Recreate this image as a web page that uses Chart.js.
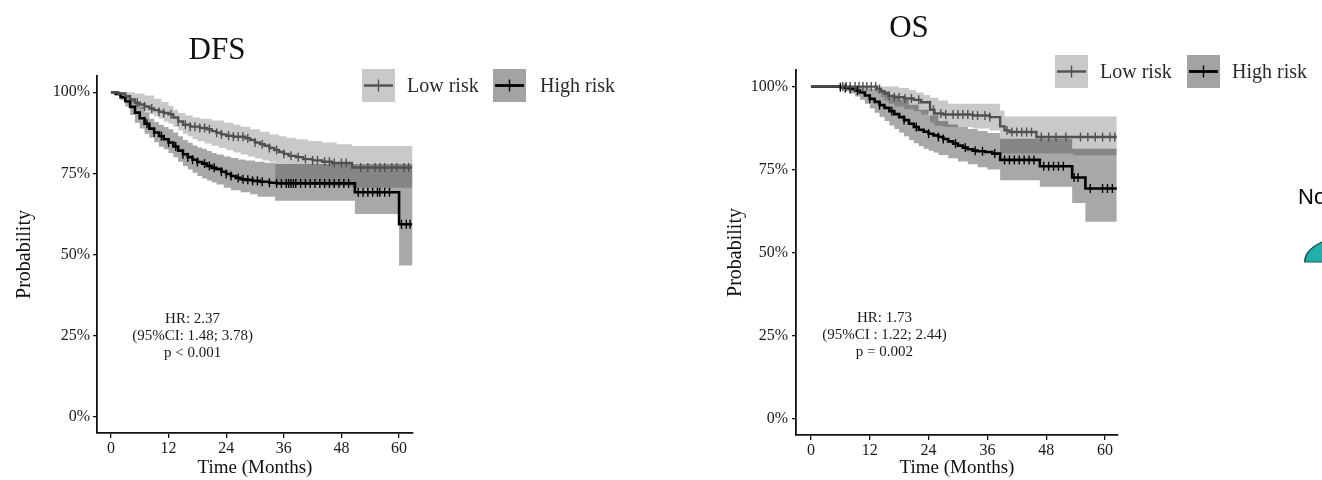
<!DOCTYPE html>
<html>
<head>
<meta charset="utf-8">
<script src="https://cdn.jsdelivr.net/npm/chart.js@4.4.1/dist/chart.umd.min.js"></script>
<style>
html, body { margin: 0; padding: 0; background: #ffffff; }
body { position: relative; width: 1322px; height: 480px; overflow: hidden; }
canvas { position: absolute; }
#dfs { left: 0; top: 0; }
#os { left: 660px; top: 0; }
#pie { left: 1304px; top: 214px; transform: scaleY(0.55); transform-origin: 50% 50%; }
#noLabel { position: absolute; left: 1298px; top: 184px; font: 22px "Liberation Sans", Arial, sans-serif; color: #000; line-height: 26px; }
</style>
</head>
<body>
<canvas id="dfs" width="660" height="480"></canvas>
<canvas id="os" width="662" height="480"></canvas>
<div id="noLabel">No</div>
<canvas id="pie" width="96" height="96"></canvas>
<script>
const SERIF = '"Liberation Serif", "Times New Roman", serif';

// ---------------- shared ticks / labels ----------------
const xTicks = [0, 12, 24, 36, 48, 60];
const yTicks = [0, 25, 50, 75, 100];
const groupNames = ['Low risk', 'High risk'];

// ---------------- DFS ----------------
const dfsLowT = [0, 1.5, 3, 4, 5, 6, 7, 8, 9, 10, 11, 12, 13, 14, 15, 16.5, 18.5, 20, 21, 22, 23, 24, 25.5, 28, 29, 30, 31, 32, 33, 34, 35, 36, 37, 38.5, 40, 42, 44, 46, 50.2, 62.7];
const dfsLowS = [100, 99.6, 98.8, 97.8, 96.8, 96.2, 95.6, 95, 94.5, 94, 93.6, 93.2, 92.2, 91, 90, 89.4, 89, 88.6, 88, 87.5, 87, 86.6, 86.3, 85.8, 85.3, 84.5, 84, 83.5, 82.8, 82.2, 81.6, 81, 80.4, 80, 79.4, 79, 78.6, 78.2, 76.8, 76.8];
const dfsLowUpT = [0, 5, 7, 9, 10.5, 12, 13, 14, 15.5, 17, 18.5, 21, 23.5, 25.5, 27, 29, 31, 33, 35, 36.5, 38.5, 41, 44, 47, 50.2, 62.8];
const dfsLowUpS = [100, 99.6, 99, 98, 97, 95.8, 94.6, 93.6, 92.8, 92.2, 91.8, 91.3, 90.6, 90, 89.4, 88.6, 87.8, 87, 86.4, 86, 85.5, 85, 84.5, 84, 83.4, 83.4];
const dfsLowLoT = [0, 1.5, 3, 4, 5, 6, 7, 8, 9, 10, 11, 12, 13, 14, 15, 16, 17, 18, 19.5, 21, 22.5, 24, 25.5, 27, 28.5, 30, 31.5, 33, 34.2, 38, 44, 50.2, 62.8];
const dfsLowLoS = [100, 99.2, 98, 96.8, 95.6, 94.8, 94, 93.2, 92.5, 91.8, 91, 90.3, 89.3, 88.2, 87.2, 86.4, 85.6, 84.9, 84.2, 83.5, 82.8, 82.1, 81.4, 80.8, 80.2, 79.6, 79, 78.5, 71.8, 71.4, 71, 70.6, 70.6];
const dfsHighT = [0, 1, 2, 3, 4, 5, 6, 7, 8, 9, 10, 11, 12, 13, 14, 15, 16, 17, 18, 19, 20, 21, 22, 23, 24, 25, 26, 27, 28, 29.5, 31, 33, 34.5, 50.8, 60, 62.7];
const dfsHighS = [100, 99.5, 98.5, 97.2, 95.5, 93.7, 92, 90.3, 88.8, 87.6, 86.5, 85.5, 84.5, 83.3, 82, 80.9, 80, 79.2, 78.5, 78, 77.3, 76.7, 76.3, 75.5, 74.8, 74.2, 73.6, 73.2, 73, 72.7, 72.4, 72.1, 71.9, 69.2, 59.3, 59.3];
const dfsHighUpT = [0, 2, 3, 4, 5, 6, 7, 8, 9, 10, 11, 12, 13, 14, 15, 16, 17, 18, 19, 20, 21, 22, 23.5, 25, 26.5, 28, 30, 32, 34.2, 62.8];
const dfsHighUpS = [100, 99.6, 99, 98, 96.8, 95.5, 93.8, 91.8, 90.8, 90, 89.3, 88.6, 87.6, 86.4, 85.3, 84.4, 83.6, 83, 82.5, 81.9, 81.3, 80.8, 80.2, 79.7, 79.3, 79, 78.6, 78.3, 77.9, 77.9];
const dfsHighLoT = [0, 1, 2, 3, 4, 5, 6, 7, 8, 9, 10, 11, 12, 13, 14, 15, 16, 17, 18, 19, 20, 21, 22, 23.5, 25, 27, 29, 30.5, 34.2, 50.8, 60, 62.8];
const dfsHighLoS = [100, 99, 97.5, 95.5, 93, 90.6, 88.8, 87.2, 86, 84.6, 83.2, 82.4, 81.3, 80, 78.6, 77.3, 76.2, 75.2, 74.2, 73.4, 72.8, 72.2, 71.6, 70.6, 69.8, 69.2, 68.6, 67.8, 66.6, 62.5, 46.6, 46.6];
const dfsLowCensor = [5.5, 7, 8.5, 10, 11, 12.5, 14, 15.5, 16.5, 17.5, 18.5, 19.5, 20.5, 22, 23, 24.5, 25.5, 26.5, 27.5, 28.5, 30, 31.5, 33, 34.5, 36, 37.5, 39, 40.5, 42, 43, 44.5, 45.5, 46.5, 48, 49, 52, 53.5, 55, 56, 57, 58.5, 59.5, 61, 62];
const dfsHighCensor = [7.5, 9, 10.5, 12, 13.5, 15, 16, 17, 18, 19.5, 20.5, 21.5, 23, 24, 25, 26.5, 27.5, 28.5, 29.5, 30.5, 31.5, 33, 34.5, 35.5, 36.5, 37, 37.5, 38, 38.5, 39.5, 40.5, 41.5, 42.5, 43.5, 44.5, 45.5, 46.5, 47.5, 48.5, 49.5, 51.5, 52.5, 53.5, 54.5, 55.5, 56, 57, 58, 60.5, 61.5, 62.3];
const dfsNote = ['HR: 2.37', '(95%CI: 1.48; 3.78)', 'p < 0.001'];

// ---------------- OS ----------------
const osLowT = [0, 13.5, 14.3, 15, 15.8, 17, 19, 21, 22.5, 24.3, 25.2, 27, 33, 36.5, 38.6, 39.5, 40.5, 46, 62.4];
const osLowS = [100, 99.3, 98.6, 97.9, 97.2, 96.8, 96.4, 96, 95.3, 93, 91.9, 91.6, 91.3, 90.8, 88, 86.8, 86.3, 84.8, 84.8];
const osLowUpT = [0, 18, 20, 21.5, 23, 24.3, 26, 28, 38.6, 39.5, 62.4];
const osLowUpS = [100, 99.6, 99, 98.2, 97.5, 96.6, 95.8, 94.8, 92.8, 91, 91];
const osLowLoT = [0, 13.5, 14.3, 15, 15.8, 17, 19, 21, 22.5, 24.3, 25.2, 27, 33, 36.5, 38.6, 53.5, 62.4];
const osLowLoS = [100, 98, 96.8, 95.8, 94.8, 94, 93.2, 92.6, 91.6, 89.2, 88.2, 87.8, 87.4, 86.8, 79.8, 79.3, 79.3];
const osHighT = [0, 6, 7, 8, 9, 10, 11, 12, 13, 14, 15, 16, 17, 18, 19, 20, 21, 22, 23, 24, 25, 26, 27, 28, 29, 30, 31, 32, 33, 34, 35.5, 37, 38.6, 46.7, 53.3, 56, 62.4];
const osHighS = [100, 99.8, 99.6, 99.3, 98.8, 98.2, 97.3, 96.3, 95.4, 94.4, 93.6, 92.6, 91.7, 90.8, 89.9, 88.8, 87.8, 87, 86.4, 85.8, 85.3, 84.8, 84.2, 83.5, 82.8, 82.2, 81.6, 81.1, 80.7, 80.5, 80.3, 79.8, 77.9, 76, 72.6, 69.3, 69.3];
const osHighUpT = [0, 10, 12, 14, 16, 18, 20, 22, 24, 26, 28, 30, 32, 34, 36, 38.6, 53.3, 62.4];
const osHighUpS = [100, 99.8, 99.4, 98.6, 97.4, 96, 94.5, 93, 91.4, 89.6, 88.6, 87.8, 87.2, 86.6, 86, 84.3, 81.3, 81.3];
const osHighLoT = [0, 6, 7, 8, 9, 10, 11, 12, 13, 14, 15, 16, 17, 18, 19, 20, 21, 22, 23, 24, 25, 26, 28, 30, 32, 34, 36, 38.6, 46.7, 53.3, 56, 62.4];
const osHighLoS = [100, 99.2, 98.6, 97.9, 97, 96, 94.8, 93.4, 92.1, 90.8, 89.6, 88.3, 87.2, 86.1, 85, 83.9, 82.9, 82, 81.3, 80.7, 80.1, 79.4, 78.4, 77.4, 76.6, 75.7, 75, 71.8, 69.8, 64.9, 59.3, 59.3];
const osLowCensor = [6.5, 7.2, 8, 9, 9.8, 10.6, 11.4, 12.3, 13.2, 14, 16, 17, 18, 19.2, 20.5, 22, 25, 26.5, 27.5, 29, 30, 31, 32, 33, 34, 35.5, 36.5, 40, 41, 42, 43, 44, 45, 47, 48.5, 50, 52, 55, 56.5, 58, 59.5, 61, 62];
const osHighCensor = [6, 7, 8, 9.5, 12, 14, 16.5, 19, 21.5, 24, 26, 27, 29.5, 31.5, 33.5, 35, 37.5, 39.5, 40.5, 41.5, 42.5, 43.5, 44.5, 45.5, 47.5, 48.5, 49.5, 50.5, 51.5, 53.7, 54.5, 57, 59.5, 60.5, 61.5];
const osNote = ['HR: 1.73', '(95%CI : 1.22; 2.44)', 'p = 0.002'];

// ---------------- fragment of the next panel ----------------
const pieLabels = ['No', 'Other'];
const pieValues = [25, 75];

// ---------------- styles ----------------
const LOW_LINE = '#505050';
const HIGH_LINE = '#000000';
const LOW_BAND = 'rgba(0,0,0,0.21)';
const HIGH_BAND = 'rgba(0,0,0,0.34)';
const LOW_KEY = '#c9c9c9';
const HIGH_KEY = '#a3a3a3';

function pts(T, S) { return T.map((t, i) => ({ x: t, y: S[i] })); }
function valueAt(T, S, t) { let v = S[0]; for (let i = 0; i < T.length; i++) { if (T[i] <= t) v = S[i]; } return v; }
function censorPts(T, S, C) { return C.map(t => ({ x: t, y: valueAt(T, S, t) })); }

const overlay = {
  id: 'overlay',
  afterDraw(chart, args, o) {
    const ctx = chart.ctx;
    ctx.save();
    // title
    ctx.fillStyle = '#111';
    ctx.font = o.titleSize + 'px ' + SERIF;
    ctx.textAlign = 'center';
    ctx.textBaseline = 'middle';
    ctx.fillText(o.title, o.titleX, o.titleY);
    // legend
    o.legend.forEach((it, k) => {
      const x = it.boxX, y = o.legendY, s = 33;
      ctx.fillStyle = it.key;
      ctx.fillRect(x, y, s, s);
      ctx.strokeStyle = it.line;
      ctx.lineWidth = it.lw;
      ctx.beginPath(); ctx.moveTo(x + 2, y + s / 2); ctx.lineTo(x + s - 2, y + s / 2); ctx.stroke();
      ctx.lineWidth = 1.4;
      ctx.beginPath(); ctx.moveTo(x + s / 2, y + s / 2 - 6); ctx.lineTo(x + s / 2, y + s / 2 + 6); ctx.stroke();
      ctx.fillStyle = '#2a2a2a';
      ctx.font = '20px ' + SERIF;
      ctx.textAlign = 'left';
      ctx.textBaseline = 'middle';
      ctx.fillText(groupNames[k], it.textX, y + s / 2 + 1);
    });
    // annotation
    const cx = chart.scales.x.getPixelForValue(o.noteAt[0]);
    const cy = chart.scales.y.getPixelForValue(o.noteAt[1]);
    ctx.fillStyle = '#1a1a1a';
    ctx.font = '15px ' + SERIF;
    ctx.textAlign = 'center';
    ctx.textBaseline = 'middle';
    o.note.forEach((l, i) => ctx.fillText(l, cx, cy + (i - 1) * 17));
    ctx.restore();
  }
};

function makeKM(id, d) {
  const band = (T, S, fill, color) => ({
    data: pts(T, S), stepped: 'before', borderWidth: 0, borderColor: 'rgba(0,0,0,0)',
    backgroundColor: color, fill: fill, pointRadius: 0, order: 10
  });
  const curve = (T, S, color, w, label) => ({
    label: label, data: pts(T, S), stepped: 'before', borderColor: color, borderWidth: w,
    fill: false, pointRadius: 0, order: 1
  });
  const cens = (T, S, C, color) => ({
    data: censorPts(T, S, C), showLine: false, pointStyle: 'line', rotation: 90,
    pointRadius: 4.5, pointBorderWidth: 1.4, pointBorderColor: color, borderColor: color, order: 0
  });
  const datasets = [
    band(d.lowUpT, d.lowUpS, false, 'rgba(0,0,0,0)'),
    band(d.lowLoT, d.lowLoS, '-1', LOW_BAND),
    band(d.highUpT, d.highUpS, false, 'rgba(0,0,0,0)'),
    band(d.highLoT, d.highLoS, '-1', HIGH_BAND),
    curve(d.lowT, d.lowS, LOW_LINE, 2.4, groupNames[0]),
    curve(d.highT, d.highS, HIGH_LINE, 2.6, groupNames[1]),
    cens(d.lowT, d.lowS, d.lowC, LOW_LINE),
    cens(d.highT, d.highS, d.highC, HIGH_LINE)
  ];
  const gridOpts = { display: true, drawOnChartArea: false, drawTicks: true, tickLength: 4, color: '#111', lineWidth: 1.3 };
  new Chart(document.getElementById(id), {
    type: 'line',
    data: { datasets: datasets },
    options: {
      responsive: false, animation: false, events: [],
      layout: { padding: d.pad },
      plugins: { legend: { display: false }, tooltip: { enabled: false }, title: { display: false }, overlay: d.overlay },
      scales: {
        x: {
          type: 'linear', min: d.xMin, max: d.xMax,
          afterBuildTicks: s => { s.ticks = xTicks.map(v => ({ value: v })); },
          afterFit: s => { s.height = d.xH; },
          grid: Object.assign({}, gridOpts, { tickLength: 5 }),
          border: { display: true, color: '#111', width: 1.8 },
          ticks: { font: { family: SERIF, size: 16 }, color: '#1a1a1a', padding: 1, maxRotation: 0, autoSkip: false },
          title: { display: true, text: 'Time (Months)', font: { family: SERIF, size: 19 }, color: '#111', padding: { top: 0, bottom: 1 } }
        },
        y: {
          type: 'linear', min: -5, max: 105,
          afterBuildTicks: s => { s.ticks = yTicks.map(v => ({ value: v })); },
          afterFit: s => { s.width = d.yW; },
          grid: gridOpts,
          border: { display: true, color: '#111', width: 1.8 },
          ticks: { font: { family: SERIF, size: 16 }, color: '#1a1a1a', padding: d.yPad, callback: v => v + '%' },
          title: { display: true, text: 'Probability', font: { family: SERIF, size: 20 }, color: '#111', padding: { top: d.yTitlePad, bottom: 0 } }
        }
      }
    },
    plugins: [overlay]
  });
}

makeKM('dfs', {
  lowT: dfsLowT, lowS: dfsLowS, lowUpT: dfsLowUpT, lowUpS: dfsLowUpS, lowLoT: dfsLowLoT, lowLoS: dfsLowLoS,
  highT: dfsHighT, highS: dfsHighS, highUpT: dfsHighUpT, highUpS: dfsHighUpS, highLoT: dfsHighLoT, highLoS: dfsHighLoS,
  lowC: dfsLowCensor, highC: dfsHighCensor,
  xMin: -2.9, xMax: 62.9, xH: 47, yW: 97, yPad: 3, yTitlePad: 13,
  pad: { left: 0, top: 76, right: 247, bottom: 0 },
  overlay: {
    title: 'DFS', titleSize: 31, titleX: 217, titleY: 51,
    legendY: 69, legend: [
      { boxX: 362, textX: 407, key: LOW_KEY, line: LOW_LINE, lw: 2.4 },
      { boxX: 493, textX: 540, key: HIGH_KEY, line: HIGH_LINE, lw: 2.8 }
    ],
    note: dfsNote, noteAt: [17, 25]
  }
});

makeKM('os', {
  lowT: osLowT, lowS: osLowS, lowUpT: osLowUpT, lowUpS: osLowUpS, lowLoT: osLowLoT, lowLoS: osLowLoS,
  highT: osHighT, highS: osHighS, highUpT: osHighUpT, highUpS: osHighUpS, highLoT: osHighLoT, highLoS: osHighLoS,
  lowC: osLowCensor, highC: osHighCensor,
  xMin: -3.05, xMax: 62.65, xH: 45, yW: 97, yPad: 4, yTitlePad: 25,
  pad: { left: 39, top: 70, right: 204, bottom: 0 },
  overlay: {
    title: 'OS', titleSize: 31, titleX: 249, titleY: 29,
    legendY: 55, legend: [
      { boxX: 395, textX: 440, key: LOW_KEY, line: LOW_LINE, lw: 2.4 },
      { boxX: 527, textX: 572, key: HIGH_KEY, line: HIGH_LINE, lw: 2.8 }
    ],
    note: osNote, noteAt: [15, 25]
  }
});

new Chart(document.getElementById('pie'), {
  type: 'pie',
  data: {
    labels: pieLabels,
    datasets: [{ data: pieValues, backgroundColor: ['#22aea9', 'rgba(255,255,255,0)'], borderColor: ['#1b4f4c', 'rgba(255,255,255,0)'], borderWidth: [1.6, 0] }]
  },
  options: {
    responsive: false, animation: false, events: [], rotation: -90,
    layout: { padding: 0 },
    plugins: { legend: { display: false }, tooltip: { enabled: false } }
  }
});
</script>
</body>
</html>
